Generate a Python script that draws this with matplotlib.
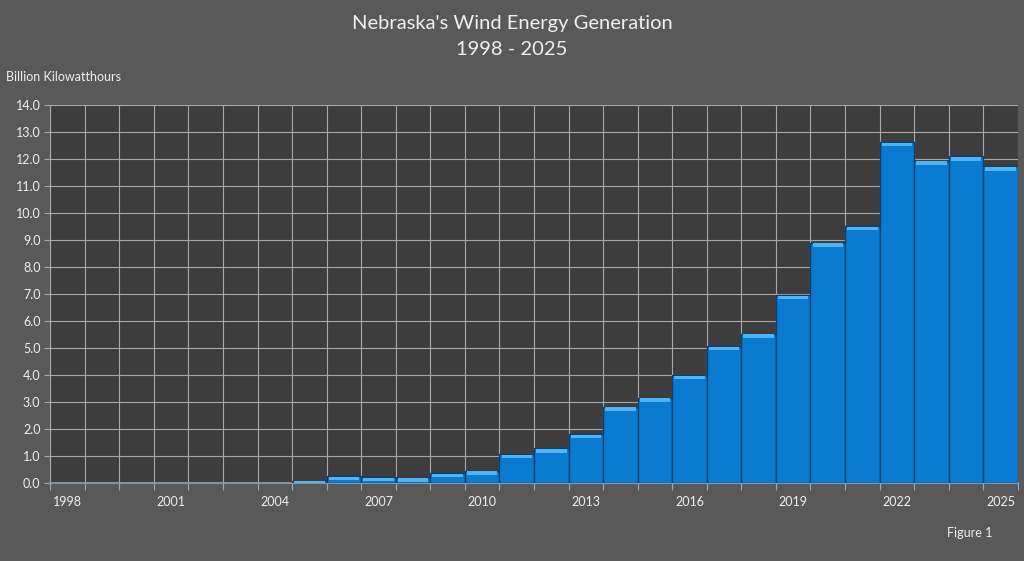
import numpy as np
import matplotlib.pyplot as plt

plt.rcParams['font.family'] = ['Lato', 'DejaVu Sans']

years = list(range(1998, 2026))
gen = [0.0, 0.0, 0.0, 0.0, 0.0, 0.0, 0.0, 0.09, 0.26, 0.22, 0.19, 0.36, 0.46,
       1.06, 1.28, 1.80, 2.83, 3.16, 4.00, 5.06, 5.53, 6.95, 8.90, 9.50,
       12.62, 11.93, 12.09, 11.72]
label_years = [1998, 2001, 2004, 2007, 2010, 2013, 2016, 2019, 2022, 2025]

BG = "#595959"
PLOT_BG = "#3d3d3d"
GRID = "#a8a8a8"
TXT = "#f0f0f0"

fig = plt.figure(figsize=(10.24, 5.61), dpi=100, facecolor=BG)
ax = fig.add_axes([0.049, 0.139, 0.945, 0.674], facecolor=PLOT_BG)

x = np.arange(len(years))
vals = np.array(gen)
nz = vals > 0

# main bars with dark side edges, then a lighter cap to fake the bevel
ax.bar(x[nz], vals[nz], width=1.0, color="#0b7ad1", edgecolor="#0a3f6e",
       linewidth=1.0, zorder=3)
ax.bar(x[nz], vals[nz] * 0 + 0.13, bottom=vals[nz] - 0.15, width=0.88,
       color="#4fb4f5", linewidth=0, zorder=4)

ax.set_xlim(-0.5, len(years) - 0.5)
ax.set_ylim(0, 14)
ax.set_yticks(np.arange(0, 15, 1))
ax.set_yticklabels([f"{v:.1f}" for v in range(15)])

ax.set_xticks([years.index(y) for y in label_years])
ax.set_xticklabels([str(y) for y in label_years])
ax.set_xticks(np.arange(-0.5, len(years), 1), minor=True)

ax.grid(True, which="minor", axis="x", color=GRID, linewidth=0.8, zorder=1)
ax.grid(True, which="major", axis="y", color=GRID, linewidth=0.8, zorder=1)
ax.set_axisbelow(True)

ax.tick_params(axis="x", which="major", length=0, colors=TXT, labelsize=9, pad=9)
ax.tick_params(axis="x", which="minor", length=5, color=GRID, width=0.8)
ax.tick_params(axis="y", length=4, color=GRID, colors=TXT, labelsize=9, pad=3)
ax.yaxis.set_tick_params(color=GRID)

for s in ["top", "right"]:
    ax.spines[s].set_visible(False)
ax.spines["left"].set_color(GRID)
ax.spines["bottom"].set_color("#8fa3b5")
ax.spines["bottom"].set_linewidth(1.2)

fig.text(0.5, 0.958, "Nebraska's Wind Energy Generation", ha="center", va="center",
         color=TXT, fontsize=14.5)
fig.text(0.5, 0.912, "1998 - 2025", ha="center", va="center",
         color=TXT, fontsize=14.5)
fig.text(0.006, 0.862, "Billion Kilowatthours", ha="left", va="center",
         color=TXT, fontsize=9)
fig.text(0.947, 0.05, "Figure 1", ha="center", va="center", color=TXT, fontsize=9)

fig.savefig("out.png", dpi=100, facecolor=BG)
